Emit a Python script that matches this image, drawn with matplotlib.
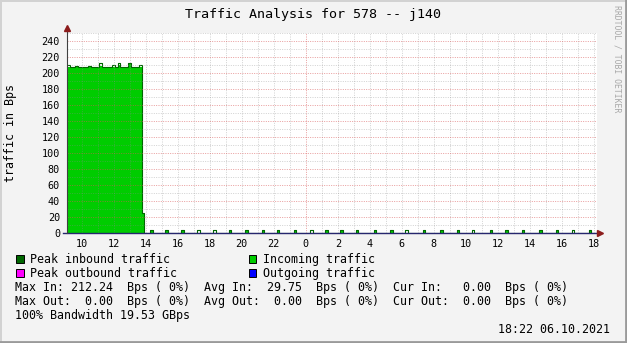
import matplotlib; matplotlib.use("Agg")
import matplotlib.pyplot as plt
from matplotlib.lines import Line2D
from matplotlib.patches import Rectangle

# ---- data (Bps), times in hours from midnight of day 1 ----
T0 = 9 + 5/60          # first sample of the burst
DT = 10/60             # sample step
surge_in = [208, 207, 206, 208, 206, 207, 206, 207, 208, 206, 207, 206, 209, 206,
            207, 206, 207, 208, 206, 210, 206, 207, 206, 211, 206, 207, 206, 208, 25]
surge_peak = [210, 208, 207, 209, 207, 208, 207, 208, 209, 207, 208, 207, 212, 207,
              208, 207, 208, 210, 207, 212, 207, 208, 207, 212.24, 207, 208, 207, 210, 25]
blip_hours = [14.37, 15.31, 16.31, 17.29, 18.29, 19.27, 20.31, 21.33, 22.27, 23.33,
              24.37, 25.31, 26.25, 27.21, 28.33, 29.37, 30.31, 31.39, 32.5, 33.52,
              34.46, 35.58, 36.56, 37.58, 38.69, 39.69, 40.71, 41.77]
blip_in = [3, 3, 3, 0.5, 0.5, 3, 3, 3, 3, 3, 0.5, 3, 3, 3, 3, 3, 0.5, 3, 3, 3,
           0.5, 3, 3, 3, 3, 3, 0.5, 3]
blip_peak = [3.5] * len(blip_hours)
BW = 10/60
XMIN, XMAX = 9.08, 42.2

xtick_hours = list(range(10, 43, 2))
ytick_vals = list(range(0, 241, 20))

legend_items = [("Peak inbound traffic", "#006600", 16, 263.3),
                ("Incoming traffic", "#00CC00", 248.5, 263.3),
                ("Peak outbound traffic", "#FF00FF", 16, 277.3),
                ("Outgoing traffic", "#0000FF", 248.5, 277.3)]
stats_lines = ["Max In: 212.24  Bps ( 0%)  Avg In:  29.75  Bps ( 0%)  Cur In:   0.00  Bps ( 0%)",
               "Max Out:  0.00  Bps ( 0%)  Avg Out:  0.00  Bps ( 0%)  Cur Out:  0.00  Bps ( 0%)",
               "100% Bandwidth 19.53 GBps"]


def build(surge, blips):
    xs = [T0 + i*DT for i in range(len(surge))]
    ys = list(surge)
    xs.append(T0 + len(surge)*DT); ys.append(0)
    for c, v in zip(blip_hours, blips):
        xs += [c - BW/2, c + BW/2]; ys += [v, 0]
    xs.append(XMAX + 1); ys.append(0)
    return xs, ys


W, H = 627, 343
MONO = "DejaVu Sans Mono"
plt.rcParams["font.family"] = MONO
fig = plt.figure(figsize=(W/100, H/100), dpi=100, facecolor="#F3F3F3")
ax = fig.add_axes([67/W, 110/H, 530/W, 200/H])
ax.set_facecolor("white")

xi, yi = build(surge_in, blip_in)
xp, yp = build(surge_peak, blip_peak)
ax.fill_between(xi, yi, step="post", color="#00CC00", lw=0, zorder=1)
ax.step(xp, yp, where="post", color="#006600", lw=0.8, zorder=2)

ax.set_xlim(XMIN, XMAX); ax.set_ylim(0, 250)

# grid drawn over the data, rrdtool style
RED = (0.85, 0.35, 0.35, 0.6)
GRAY = (0.55, 0.55, 0.55, 0.4)
for h in range(10, 43):
    ax.axvline(h, color=RED if h % 24 == 0 else GRAY, lw=0.7, ls=(0, (1, 1.4)), zorder=3)
for v in range(10, 251, 10):
    ax.axhline(v, color=RED if v % 20 == 0 else GRAY, lw=0.7, ls=(0, (1, 1.4)), zorder=3)

for s in ax.spines.values():
    s.set_visible(False)
ax.plot([-0.0075, 1.0], [0, 0], transform=ax.transAxes, color="#26266E", lw=1.0,
        clip_on=False, zorder=5)
ax.plot([0, 0], [0, 1.0125], transform=ax.transAxes, color="#404040", lw=0.8,
        clip_on=False, zorder=5)
ax.plot([1.0066], [0], marker=">", ms=4, color="#8C1C1C", transform=ax.transAxes,
        clip_on=False, zorder=6)
ax.plot([0], [1.0225], marker="^", ms=4, color="#8C1C1C", transform=ax.transAxes,
        clip_on=False, zorder=6)

ax.set_xticks(xtick_hours, [str(h % 24) for h in xtick_hours])
ax.set_yticks(ytick_vals)
ax.tick_params(axis="x", length=0, pad=4.3, labelsize=7.3)
ax.tick_params(axis="y", length=0, pad=5, labelsize=7.3)

def ft(x, y, s, **kw):
    fig.text(x/W, 1 - y/H, s, **kw)

ft(313, 18.3, "Traffic Analysis for 578 -- j140", ha="center", va="baseline", size=9.6)
ft(617, 59, "RRDTOOL / TOBI OETIKER", ha="center", va="center", rotation=270,
   size=5.9, color="#A8A8A8")
ft(11, 133, "traffic in Bps", ha="center", va="center", rotation=90, size=8.4)

for label, col, x, yb in legend_items:
    fig.add_artist(Rectangle((x/W, 1 - yb/H), 7.5/W, 8/H, transform=fig.transFigure,
                             facecolor=col, edgecolor="black", lw=0.7))
    ft(x + 14.5, yb, label, ha="left", va="baseline", size=8.4)
for i, line in enumerate(stats_lines):
    ft(15.5, 291.3 + 14*i, line, ha="left", va="baseline", size=8.4)
ft(609.5, 333, "18:22 06.10.2021", ha="right", va="baseline", size=8.4)

# 3D-ish frame
fig.add_artist(Line2D([0, 1], [1 - 1/H]*2, transform=fig.transFigure, color="#D2D2D2", lw=1.4))
fig.add_artist(Line2D([1/W]*2, [0, 1], transform=fig.transFigure, color="#D2D2D2", lw=1.4))
fig.add_artist(Line2D([0, 1], [1.5/H]*2, transform=fig.transFigure, color="#9A9A9A", lw=2.0))
fig.add_artist(Line2D([1 - 1.5/W]*2, [0, 1], transform=fig.transFigure, color="#9A9A9A", lw=2.0))

fig.savefig("out.png", dpi=100, facecolor=fig.get_facecolor())
